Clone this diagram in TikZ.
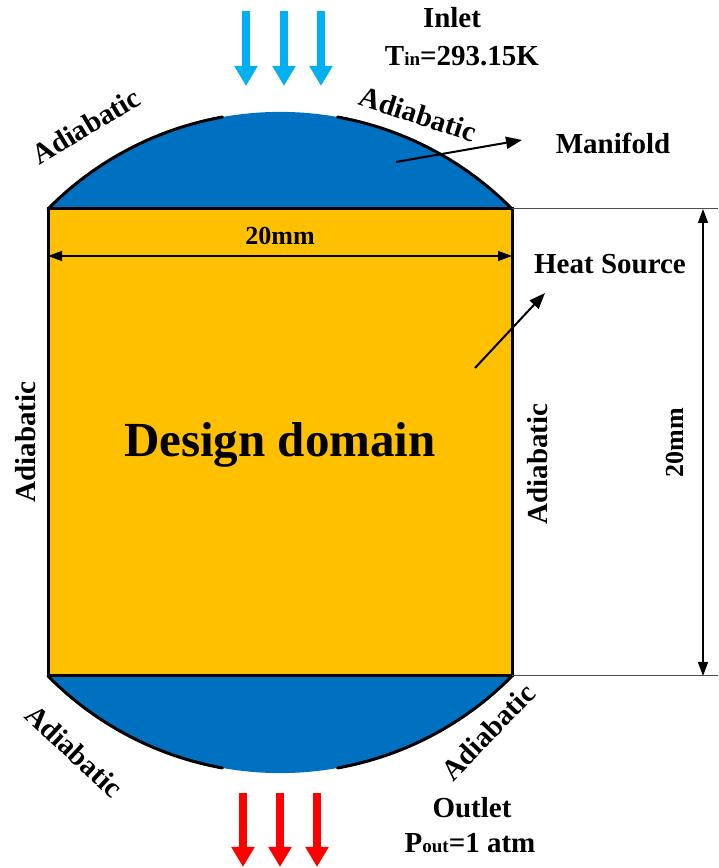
\documentclass[tikz,border=0pt]{standalone}
\usepackage{fontspec}
\setmainfont{Liberation Serif}
\usetikzlibrary{arrows.meta}
\definecolor{manifoldblue}{RGB}{0,112,192}
\definecolor{domainyellow}{RGB}{255,192,0}
\definecolor{inletblue}{RGB}{0,176,240}
\definecolor{outletred}{RGB}{255,0,0}
\tikzset{
  lbl/.style     = { font=\bfseries\fontsize{14.5}{17}\selectfont, inner sep=0pt },
  dimlbl/.style  = { font=\bfseries\fontsize{13}{15}\selectfont, inner sep=0pt },
  big/.style     = { font=\bfseries\fontsize{24.5}{29}\selectfont, inner sep=0pt },
  wall/.style    = { line width=1.5pt, line cap=round },
  dimline/.style = { line width=0.7pt, {Triangle[length=7pt,width=5pt]}-{Triangle[length=7pt,width=5pt]} },
  extline/.style = { line width=0.5pt, color=black!70 },
  pointer/.style = { line width=1pt, -{Triangle[length=8pt,width=6pt]} },
  flow/.style    = { line width=4pt, -{Triangle[length=10pt,width=11pt]} }
}
\newcommand*{\Rad}{326}
\begin{document}
\begin{tikzpicture}[x=0.5pt,y=0.5pt]
  \useasboundingbox (0,0) rectangle (718,868);

  % corners of the design domain
  \coordinate (tl) at (48,659);
  \coordinate (tr) at (512,659);
  \coordinate (bl) at (48,192);
  \coordinate (br) at (512,192);

  % manifolds
  \fill[manifoldblue] (tl) arc[start angle=135.4, end angle=44.6, radius=\Rad] -- cycle;
  \fill[manifoldblue] (bl) arc[start angle=224.6, end angle=315.4, radius=\Rad] -- cycle;
  \draw[wall] (tl) arc[start angle=135.4, end angle=100.2, radius=\Rad];
  \draw[wall] (tr) arc[start angle=44.6, end angle=79.8, radius=\Rad];
  \draw[wall] (bl) arc[start angle=224.6, end angle=259.8, radius=\Rad];
  \draw[wall] (br) arc[start angle=315.4, end angle=280.2, radius=\Rad];

  % design domain
  \filldraw[fill=domainyellow, wall] (bl) rectangle (tr);
  \node[big, anchor=base] (dd) at (280,411) {Design domain};

  % dimensions
  \coordinate (htl) at (48,612);
  \coordinate (htr) at (512,612);
  \draw[dimline] (htl) -- (htr);
  \node[dimlbl] (hdim) at (280,632) {20mm};
  \coordinate (etr) at (718,659);
  \coordinate (ebr) at (718,192);
  \draw[extline] (tr) -- (etr);
  \draw[extline] (br) -- (ebr);
  \coordinate (vtop) at (703,659);
  \coordinate (vbot) at (703,192);
  \draw[dimline] (vtop) -- (vbot);
  \node[dimlbl, rotate=90] (vdim) at (675,425) {20mm};

  % walls
  \node[lbl, rotate=31] (adtl) at (86,742) {Adiabatic};
  \node[lbl, rotate=-18] (adtr) at (418,754) {Adiabatic};
  \node[lbl, rotate=90] (adl) at (26,426) {Adiabatic};
  \node[lbl, rotate=90] (adr) at (538,404) {Adiabatic};
  \node[lbl, rotate=-43] (adbl) at (74,117) {Adiabatic};
  \node[lbl, rotate=46] (adbr) at (488,136) {Adiabatic};

  % pointers
  \node[lbl] (mani) at (613,725) {Manifold};
  \coordinate (mfrom) at (396,706);
  \coordinate (mto) at (522,728);
  \draw[pointer] (mfrom) -- (mto);
  \node[lbl] (heat) at (610,604) {Heat Source};
  \coordinate (hfrom) at (475,500);
  \coordinate (hto) at (545,575);
  \draw[pointer] (hfrom) -- (hto);

  % inlet and outlet
  \foreach \x [count=\i] in {246,284,321} {
    \coordinate (in\i) at (\x,857);
    \coordinate (ie\i) at (\x,782);
    \draw[flow, inletblue] (in\i) -- (ie\i);
  }
  \foreach \x [count=\i] in {243,280,317} {
    \coordinate (out\i) at (\x,75);
    \coordinate (oe\i) at (\x,1);
    \draw[flow, outletred] (out\i) -- (oe\i);
  }
  \node[lbl] (inlet) at (452,850) {Inlet};
  \node[lbl] (tin) at (462,812) {T{\fontsize{9.5}{10}\selectfont in}=293.15K};
  \node[lbl] (outlet) at (472,60) {Outlet};
  \node[lbl] (pout) at (470,25) {P{\fontsize{9.5}{10}\selectfont out}=1 atm};
\end{tikzpicture}
\end{document}
